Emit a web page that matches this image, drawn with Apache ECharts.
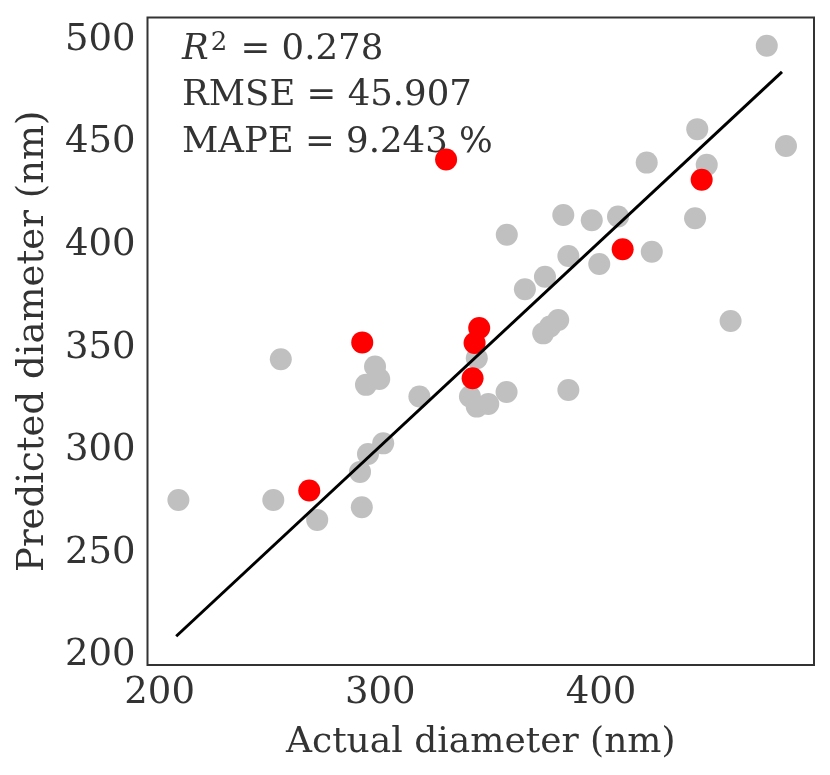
<!DOCTYPE html>
<html>
<head>
<meta charset="utf-8">
<script src="https://cdn.jsdelivr.net/npm/echarts@6/dist/echarts.min.js"></script>
<style>
  html, body { margin: 0; padding: 0; background: #fff; }
  #chart { width: 830px; height: 775px; }
</style>
</head>
<body>
<div id="chart"></div>
<script>
// ======================
// DATA
// ======================
const grayActual = [208.5, 251.5, 271.4, 291.6, 290.8, 294.4, 301.3, 254.9, 297.6, 299.5,
    293.5, 317.7, 343.7, 340.6, 343.7, 348.9, 357.2, 385.2, 365.5, 374.6,
    385.2, 399.2, 373.8, 376.9, 380.6, 357.3, 382.9, 395.8, 407.7, 423.0,
    442.6, 420.7, 443.6, 447.9, 458.7, 475.1, 483.8];
const grayPredicted = [275.9, 275.9, 266.2, 272.4, 289.6, 298.3, 303.5, 344.5, 340.9, 334.9,
    332.0, 326.3, 345.0, 326.3, 321.4, 322.7, 328.5, 329.5, 378.6, 384.7,
    394.8, 390.9, 357.1, 360.4, 363.6, 405.1, 414.8, 412.2, 414.0, 396.9,
    413.2, 440.3, 456.6, 439.2, 363.1, 497.2, 448.4];

const redActual = [267.8, 291.8, 329.8, 344.8, 342.7, 341.8, 409.8, 445.6];
const redPredicted = [280.5, 352.7, 441.8, 359.7, 352.4, 335.2, 398.1, 431.9];

const fitActual = [207.5, 482.0];
const fitPredicted = [209.5, 484.5];

const xRange = [194.5, 496.5];
const yRange = [195.5, 511.0];
const xTickStep = 100;
const yTickStep = 50;

const metrics = [
    { name: "R", sup: "2", value: "0.278" },
    { name: "RMSE", value: "45.907" },
    { name: "MAPE", value: "9.243 %" }
];

const xTitle = "Actual diameter (nm)";
const yTitle = "Predicted diameter (nm)";

// ======================
// STYLE
// ======================
const FONT = "'DejaVu Serif', serif";
const TEXT_COLOR = "#333333";
const GRAY = "#c0c0c0";
const RED = "#ff0000";

const zip = (a, b) => a.map((v, i) => [v, b[i]]);

const chart = echarts.init(document.getElementById("chart"), null, { renderer: "canvas" });

const metricTexts = metrics.map((m, i) => {
    const txt = m.sup
        ? `{it|${m.name}}{sup|${m.sup}}{n| = ${m.value}}`
        : `{n|${m.name} = ${m.value}}`;
    return {
        type: "text",
        left: 182,
        top: 30 + i * 47.5,
        z: 0,
        style: {
            text: txt,
            fill: TEXT_COLOR,
            rich: {
                n: { fontFamily: FONT, fontSize: 35.5, fill: TEXT_COLOR, lineHeight: 40 },
                it: { fontFamily: FONT, fontSize: 35.5, fontStyle: "italic", fill: TEXT_COLOR, lineHeight: 40 },
                sup: { fontFamily: FONT, fontSize: 26, fill: TEXT_COLOR, verticalAlign: "top", lineHeight: 24, padding: [0, 2, 0, 2] }
            }
        }
    };
});

chart.setOption({
    backgroundColor: "#ffffff",
    animation: false,
    grid: {
        left: 147.5,
        right: 16,
        top: 17.5,
        bottom: 110,
        containLabel: false,
        outerBoundsMode: "none",
        show: true,
        borderColor: "#333333",
        borderWidth: 2,
        backgroundColor: "#ffffff"
    },
    xAxis: {
        type: "value",
        min: xRange[0],
        max: xRange[1],
        name: xTitle,
        nameLocation: "middle",
        nameGap: 60,
        nameTextStyle: { fontFamily: FONT, fontSize: 36, color: TEXT_COLOR },
        axisLine: { show: false },
        axisTick: { show: false },
        splitLine: { show: false },
        axisLabel: {
            fontFamily: FONT,
            fontSize: 37,
            color: TEXT_COLOR,
            margin: 10,
            formatter: v => (Math.abs(v % xTickStep) < 1e-6 ? String(v) : "")
        }
    },
    yAxis: {
        type: "value",
        min: yRange[0],
        max: yRange[1],
        name: yTitle,
        nameLocation: "middle",
        nameGap: 96,
        nameTextStyle: { fontFamily: FONT, fontSize: 37, color: TEXT_COLOR },
        axisLine: { show: false },
        axisTick: { show: false },
        splitLine: { show: false },
        axisLabel: {
            fontFamily: FONT,
            fontSize: 37,
            color: TEXT_COLOR,
            margin: 12,
            formatter: v => (Math.abs(v % yTickStep) < 1e-6 ? String(v) : "")
        }
    },
    graphic: metricTexts,
    series: [
        {
            name: "train",
            type: "scatter",
            symbol: "circle",
            symbolSize: 22,
            z: 2,
            itemStyle: { color: GRAY, opacity: 1 },
            data: zip(grayActual, grayPredicted)
        },
        {
            name: "test",
            type: "scatter",
            symbol: "circle",
            symbolSize: 22,
            z: 3,
            itemStyle: { color: RED, opacity: 1 },
            data: zip(redActual, redPredicted)
        },
        {
            name: "fit",
            type: "line",
            symbol: "none",
            z: 4,
            lineStyle: { color: "#000000", width: 3 },
            data: zip(fitActual, fitPredicted)
        }
    ]
});
</script>
</body>
</html>
